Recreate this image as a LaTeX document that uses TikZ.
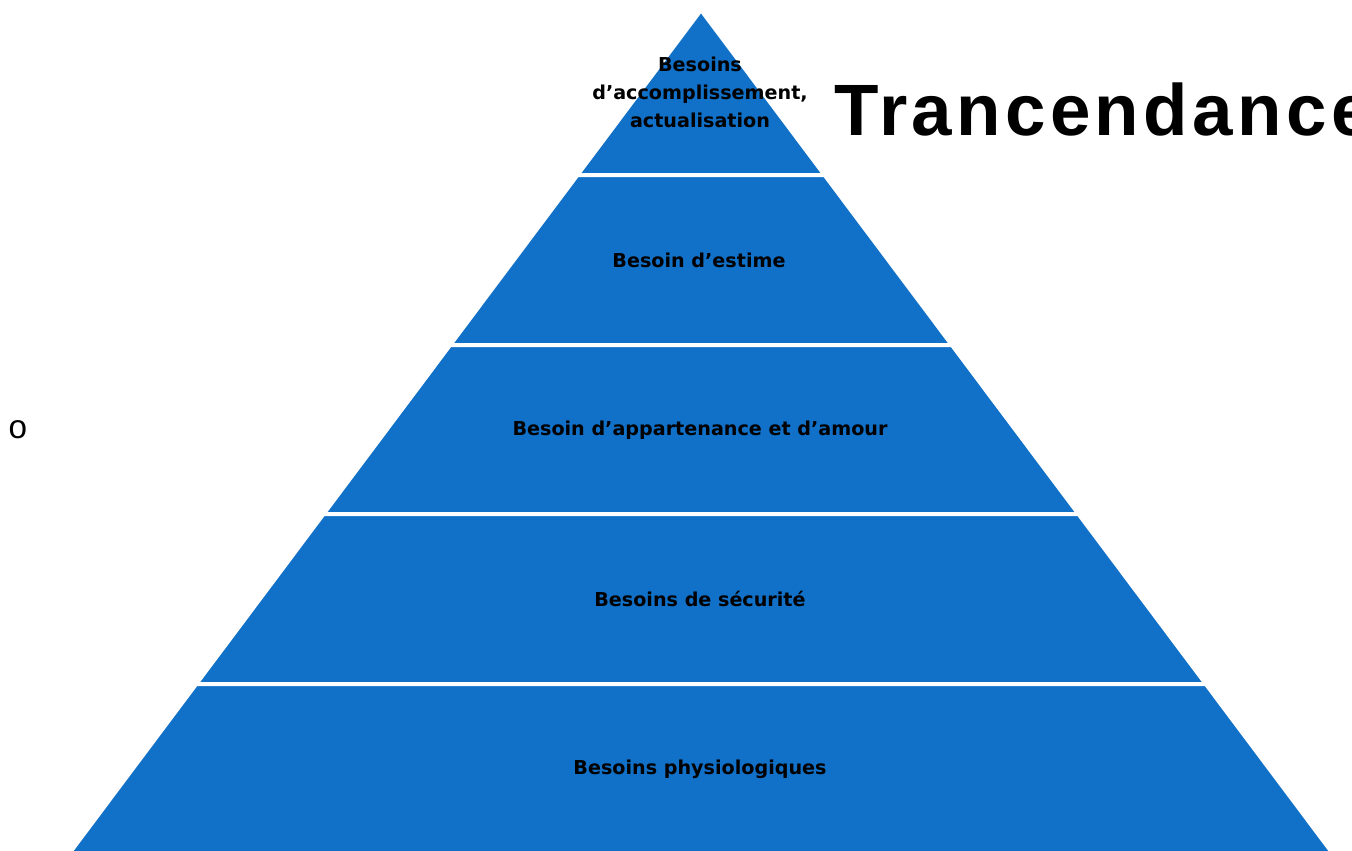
\documentclass[tikz,border=0pt]{standalone}
\usepackage{fontspec}
\setmainfont{DejaVu Sans}
\newfontfamily\titlefont[LetterSpace=6]{Liberation Sans}
\newfontfamily\bulletfont{Liberation Mono}
\usepackage{tikz}
\usetikzlibrary{positioning}

\definecolor{pyrblue}{RGB}{17,112,199}
\tikzset{
  band/.style={fill=pyrblue,draw=white,line width=0.08cm,line join=miter},
  bandlabel/.style={font=\bfseries\fontsize{10.9}{15.9}\selectfont,text=black,align=center,inner sep=0pt}
}

\begin{document}
\begin{tikzpicture}[x=0.02cm,y=-0.02cm,line cap=round]
\useasboundingbox (0,0) rectangle (1352,850);
% pyramid bands (apex at 701,10)
\def\pyrslope{0.749}
\foreach \ya/\yb in {10/175,175/345,345/514,514/684,684/860}{
  \path[band] ({701-\pyrslope*(\ya-10)},\ya) -- ({701+\pyrslope*(\ya-10)},\ya)
    -- ({701+\pyrslope*(\yb-10)},\yb) -- ({701-\pyrslope*(\yb-10)},\yb) -- cycle;
}
% labels
\node[bandlabel] (accomp) at (700,92) {Besoins\\d'accomplissement,\\actualisation};
\node[bandlabel] (estime) at (699,260) {Besoin d'estime};
\node[bandlabel] (amour) at (700,430) {Besoin d'appartenance et d'amour};
\node[bandlabel] (secu) at (700,599) {Besoins de sécurité};
\node[bandlabel] (physio) at (700,769) {Besoins physiologiques};
\node[font=\titlefont\bfseries\fontsize{41.4}{48}\selectfont,anchor=base west,inner sep=0pt] (trans) at (834,135) {Trancendance};
\node[font=\bulletfont\fontsize{19}{22}\selectfont,inner sep=0pt] (puce) at (18,430) {o};
\end{tikzpicture}
\end{document}
